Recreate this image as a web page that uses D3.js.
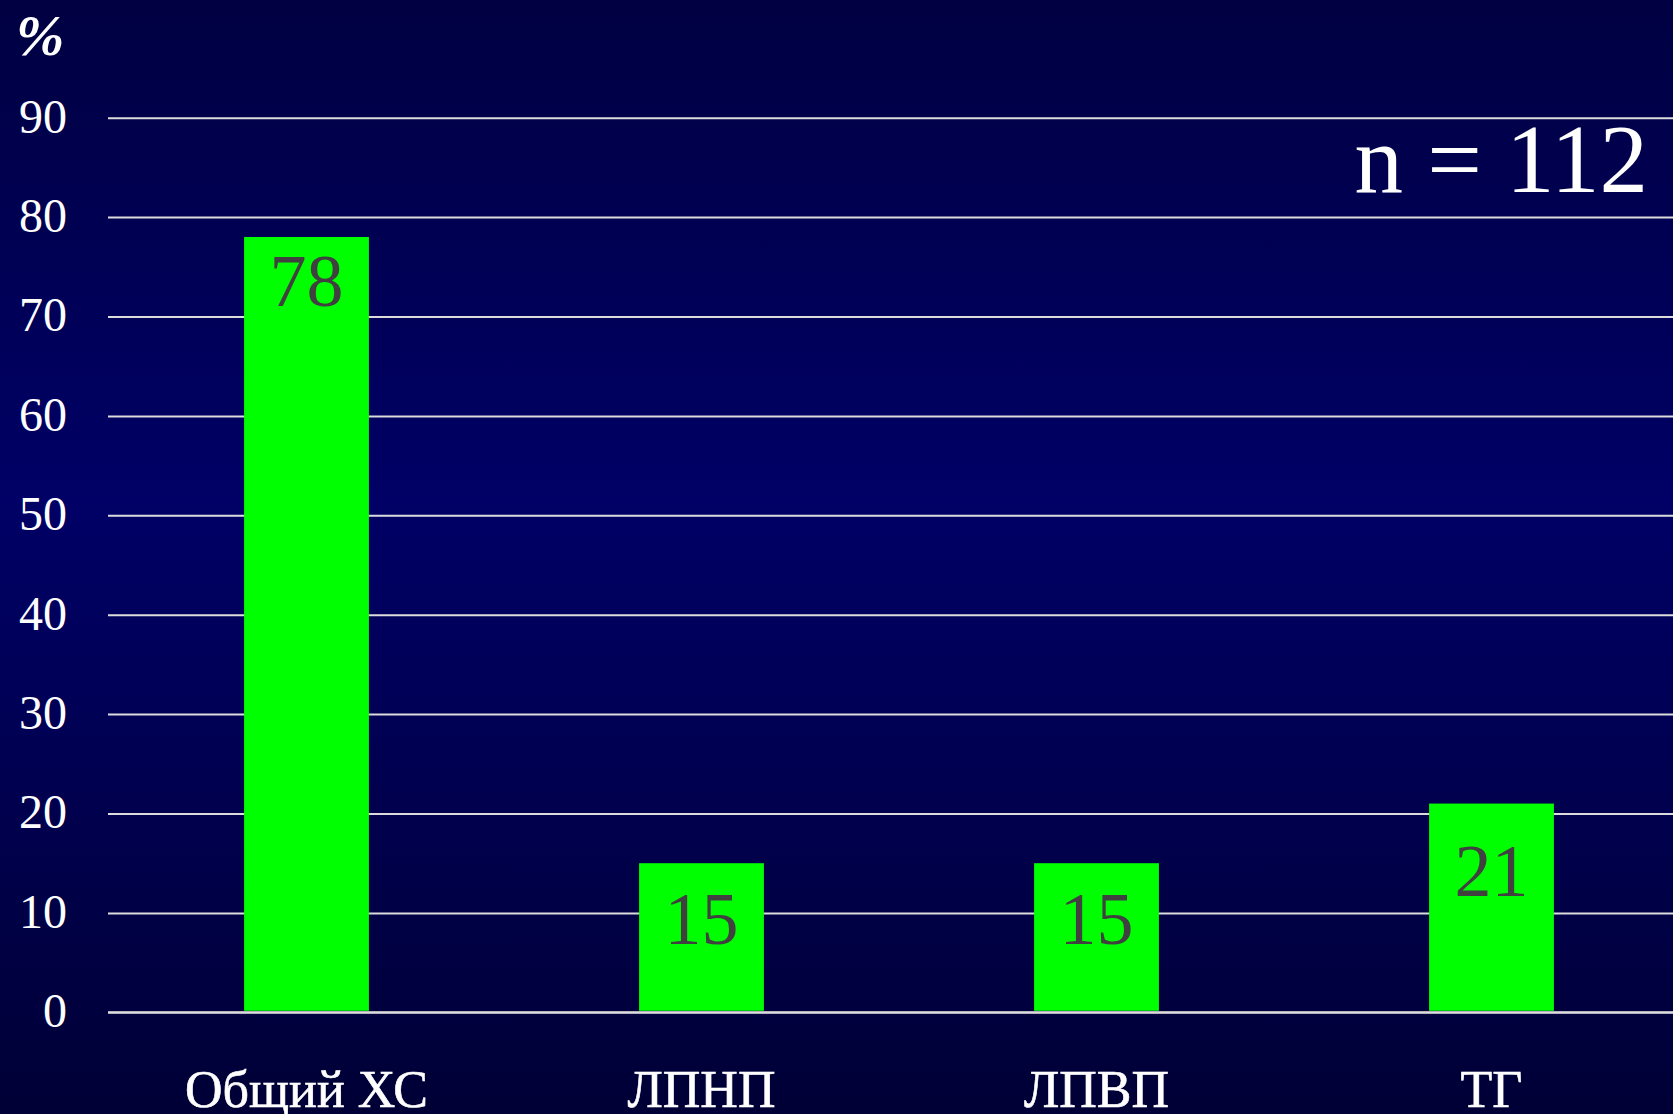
<!DOCTYPE html>
<html>
<head>
<meta charset="utf-8">
<script src="https://cdn.jsdelivr.net/npm/d3@7"></script>
<style>
  html, body { margin: 0; padding: 0; background: #000040; }
  svg { display: block; }
  text { font-family: "Liberation Serif", "Times New Roman", serif; }
</style>
</head>
<body>
<svg id="chart" width="1673" height="1114"></svg>
<script>
// Share of patients with each lipid abnormality, %
const categories = ["Общий ХС", "ЛПНП", "ЛПВП", "ТГ"];
const values = [78, 15, 15, 21];
const yTicks = [0, 10, 20, 30, 40, 50, 60, 70, 80, 90];
const unitLabel = "%";
const sampleLabel = "n = 112";

// value labels sit a little lower on the shorter bars
const labelDy = [69, 81, 81, 92];

const W = 1673, H = 1114;
const left = 108, right = W;
const yTop = 117.7, yBottom = 1012.3;

const svg = d3.select("#chart");

// background: dark navy, slightly lighter through the middle
const defs = svg.append("defs");
const grad = defs.append("linearGradient")
  .attr("id", "bg").attr("x1", 0).attr("y1", 0).attr("x2", 0).attr("y2", 1);
grad.append("stop").attr("offset", "0%").attr("stop-color", "#000042");
grad.append("stop").attr("offset", "45%").attr("stop-color", "#000066");
grad.append("stop").attr("offset", "100%").attr("stop-color", "#000036");
svg.append("rect").attr("width", W).attr("height", H).attr("fill", "url(#bg)");

const y = d3.scaleLinear().domain([0, 90]).range([yBottom, yTop]);
const x = d3.scaleBand()
  .domain(categories)
  .range([left + 1, left + 1 + 395 * categories.length])
  .paddingInner(0.684)
  .paddingOuter(0.342);

// gridlines + tick labels
const yAxis = d3.axisLeft(y)
  .tickValues(yTicks)
  .tickSize(-(right - left))
  .tickPadding(41)
  .tickFormat(d3.format("d"));

const gAxis = svg.append("g")
  .attr("transform", `translate(${left},0)`)
  .call(yAxis);
gAxis.select(".domain").remove();
gAxis.selectAll(".tick line")
  .attr("stroke", "#dcdcdc")
  .attr("stroke-width", 2);
gAxis.selectAll(".tick text")
  .attr("fill", "#ffffff")
  .attr("font-size", 48)
  .attr("dy", "0.3em")
  .style("font-family", "'Liberation Serif', 'Times New Roman', serif");

// bars
svg.append("g").selectAll("rect")
  .data(values)
  .join("rect")
  .attr("x", (d, i) => x(categories[i]))
  .attr("y", d => y(d))
  .attr("width", x.bandwidth())
  .attr("height", d => y(0) - y(d) - 1.5)
  .attr("fill", "#00ff00");

// zero line over the bar bases
svg.append("line")
  .attr("x1", left).attr("x2", right)
  .attr("y1", y(0)).attr("y2", y(0))
  .attr("stroke", "#dcdcdc")
  .attr("stroke-width", 2);

// value labels inside the bars
svg.append("g").selectAll("text")
  .data(values)
  .join("text")
  .attr("x", (d, i) => x(categories[i]) + x.bandwidth() / 2)
  .attr("y", (d, i) => y(d) + labelDy[i])
  .attr("text-anchor", "middle")
  .attr("font-size", 74)
  .attr("fill", "#404040")
  .text(d => d);

// category labels
svg.append("g").selectAll("text")
  .data(categories)
  .join("text")
  .attr("x", d => x(d) + x.bandwidth() / 2)
  .attr("y", 1107)
  .attr("text-anchor", "middle")
  .attr("font-size", 52)
  .attr("fill", "#ffffff")
  .attr("stroke", "#ffffff")
  .attr("stroke-width", 0.6)
  .text(d => d);

// unit mark
svg.append("text")
  .attr("x", 16)
  .attr("y", 55)
  .attr("font-size", 58)
  .attr("font-style", "italic")
  .attr("font-weight", "bold")
  .attr("fill", "#ffffff")
  .text(unitLabel);

// sample size
svg.append("text")
  .attr("x", 1648)
  .attr("y", 192)
  .attr("text-anchor", "end")
  .attr("font-size", 97)
  .attr("fill", "#ffffff")
  .text(sampleLabel);
</script>
</body>
</html>
